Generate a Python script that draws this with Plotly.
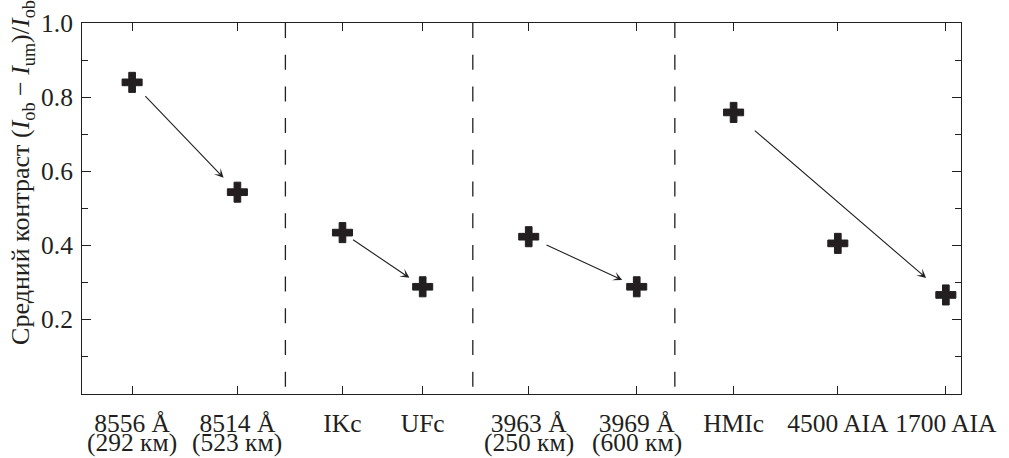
import plotly.graph_objects as go

# ---- data ----
labels_line1 = ["8556 Å", "8514 Å", "IKc", "UFc", "3963 Å", "3969 Å", "HMIc", "4500 AIA", "1700 AIA"]
labels_line2 = ["(292 км)", "(523 км)", "", "", "(250 км)", "(600 км)", "", "", ""]
x_pos = [0.476, 1.476, 2.474, 3.236, 4.243, 5.269, 6.189, 7.179, 8.205]
contrast = [0.840, 0.544, 0.435, 0.289, 0.424, 0.289, 0.759, 0.406, 0.267]
separators = [1.932, 3.712, 5.631]
arrow_pairs = [(0, 1), (2, 3), (4, 5), (6, 8)]
arrow_start_off = [17, 11, 18, 26]
arrow_end_off = [20, 16, 16, 26]
y_tickvals = [0.2, 0.4, 0.6, 0.8, 1.0]
y_ticktext = ["0.2", "0.4", "0.6", "0.8", "1.0"]

INK = "#231f20"
FONT = "Liberation Serif, Times New Roman, Times, serif"
FS = 25.5

fig = go.Figure()
fig.add_trace(go.Scatter(
    x=x_pos, y=contrast, mode="markers",
    marker=dict(symbol="cross", size=16.7, color=INK, line=dict(color=INK, width=1)),
    showlegend=False, hoverinfo="skip",
))

for s in separators:
    fig.add_shape(type="line", xref="x", yref="paper", x0=s, x1=s, y0=1, y1=0,
                  line=dict(color=INK, width=1.3, dash="15px,16.7px"))

for (i, j), so, eo in zip(arrow_pairs, arrow_start_off, arrow_end_off):
    fig.add_annotation(x=x_pos[j], y=contrast[j], ax=x_pos[i], ay=contrast[i],
                       xref="x", yref="y", axref="x", ayref="y",
                       showarrow=True, arrowhead=3, arrowsize=1.4, arrowwidth=1.1,
                       arrowcolor=INK, standoff=eo, startstandoff=so, text="")

for xp, t in zip(x_pos, labels_line2):
    if t:
        fig.add_annotation(x=xp, y=0, xref="x", yref="paper", yanchor="top",
                           yshift=-34, borderpad=0, borderwidth=0, text=t, showarrow=False,
                           font=dict(family=FONT, size=FS, color=INK))

for v, t in zip(y_tickvals, y_ticktext):
    fig.add_annotation(x=0, y=v, xref="paper", yref="y", xanchor="right", yanchor="middle",
                       xshift=-9, borderpad=0, borderwidth=0, text=t, showarrow=False,
                       font=dict(family=FONT, size=FS, color=INK))

fig.add_annotation(
    xref="paper", yref="paper", x=0, y=0.596, xshift=-60,
    xanchor="center", yanchor="middle", textangle=-90, showarrow=False,
    text="Средний контраст (<i>I</i><sub>ob</sub> − <i>I</i><sub>um</sub>)/<i>I</i><sub>ob</sub>",
    font=dict(family=FONT, size=26, color=INK),
)

fig.update_layout(
    width=1009, height=458,
    margin=dict(l=82, r=36, t=23, b=64),
    paper_bgcolor="white", plot_bgcolor="white",
    font=dict(family=FONT, size=FS, color=INK),
    xaxis=dict(range=[0, 8.349], tickmode="array", tickvals=x_pos, ticktext=labels_line1,
               ticks="inside", ticklen=8, tickwidth=1.2, tickcolor=INK,
               showline=True, linecolor=INK, linewidth=1.3, mirror="ticks",
               ticklabelstandoff=6,
               showgrid=False, zeroline=False, tickfont=dict(family=FONT, size=FS, color=INK)),
    yaxis=dict(range=[0, 1.0], tickmode="array", tickvals=y_tickvals,
               showticklabels=False,
               ticks="inside", ticklen=9, tickwidth=1.2, tickcolor=INK,
               minor=dict(dtick=0.1, tick0=0, ticks="inside", ticklen=6, tickwidth=1.2, tickcolor=INK, showgrid=False),
               showline=True, linecolor=INK, linewidth=1.3, mirror="ticks",
               showgrid=False, zeroline=False),
)

fig.write_html("out.html")
